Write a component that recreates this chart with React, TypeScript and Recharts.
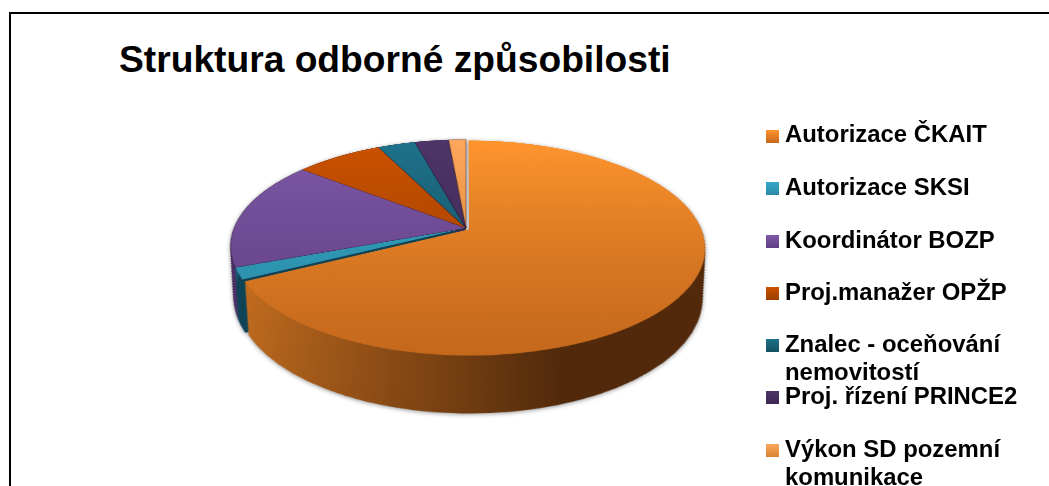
import React from "react";
import { PieChart, Pie, Cell } from "recharts";

const categories = [
  "Autorizace ČKAIT",
  "Autorizace SKSI",
  "Koordinátor BOZP",
  "Proj.manažer OPŽP",
  "Znalec - oceňování nemovitostí",
  "Proj. řízení PRINCE2",
  "Výkon SD pozemní komunikace",
];
const shares = [67.4, 1.8, 16.5, 7.1, 3.05, 2.75, 1.4];

// top face: light at the back, dark at the front
const topLight = ["#ff952e", "#33a8c8", "#8059a9", "#cc5200", "#1d728b", "#4e3569", "#fca75c"];
const topDark = ["#c4681c", "#2a8aa5", "#5f3f82", "#9a3f00", "#155062", "#3a2850", "#d9822f"];
// side wall: left to right
const wallLeft = ["#c87020", "#2f93b0", "#4a3066", "#8a3a00", "#124a5c", "#2e2040", "#b87030"];
const wallRight = ["#522a0b", "#0f4456", "#3a2550", "#6a2c00", "#0f3e4d", "#261a35", "#8a5525"];

const rows = categories.map((name, i) => ({ name, value: shares[i] }));

const SIZE = 700;
const C = 350;
const R = 232;
const LAYERS = 51;
const STEP = 2;
const SHRINK = 0.4;
const layerIds = Array.from({ length: LAYERS }, (_, i) => LAYERS - i);

function slices(group: "main" | "rest", kind: "top" | "wall") {
  return rows.map((_, i) => {
    const on = group === "main" ? i === 0 : i !== 0;
    // thin dark seam between the small slices
    const seam = kind === "top" && on && group === "rest";
    return (
      <Cell
        key={i}
        fill={on ? `url(#${kind}${i})` : "none"}
        stroke={seam ? "rgba(40,15,40,0.45)" : "none"}
        strokeWidth={seam ? 1 : 0}
      />
    );
  });
}

function layers(group: "main" | "rest", dx: number, dy: number) {
  const pieProps = {
    data: rows,
    dataKey: "value",
    startAngle: 90,
    endAngle: -270,
    innerRadius: 0,
    stroke: "none",
    isAnimationActive: false,
    legendType: "none" as const,
  };
  return [
    ...layerIds.map((k) => (
      <Pie
        key={`${group}-${k}`}
        {...pieProps}
        cx={C + dx}
        cy={C + dy + k * STEP}
        outerRadius={R - k * SHRINK}
      >
        {slices(group, "wall")}
      </Pie>
    )),
    <Pie key={`${group}-top`} {...pieProps} cx={C + dx} cy={C + dy} outerRadius={R}>
      {slices(group, "top")}
    </Pie>,
  ];
}

function Pie3D() {
  return (
    <PieChart width={SIZE} height={SIZE} margin={{ top: 0, right: 0, bottom: 0, left: 0 }}>
      <defs>
        {rows.map((_, i) => (
          <linearGradient
            key={`t${i}`}
            id={`top${i}`}
            gradientUnits="userSpaceOnUse"
            x1="0"
            y1={C - R}
            x2="0"
            y2={C + R}
          >
            <stop offset="0%" stopColor={topLight[i]} />
            <stop offset="100%" stopColor={topDark[i]} />
          </linearGradient>
        ))}
        {rows.map((_, i) => (
          <linearGradient
            key={`w${i}`}
            id={`wall${i}`}
            gradientUnits="userSpaceOnUse"
            x1={C - R}
            y1="0"
            x2={C + R}
            y2="0"
          >
            <stop offset={i === 1 ? "2%" : "3%"} stopColor={wallLeft[i]} />
            <stop offset={i === 1 ? "5%" : "66%"} stopColor={wallRight[i]} />
          </linearGradient>
        ))}
      </defs>
      {layers("rest", 0, 0)}
      {layers("main", 3, 3)}
    </PieChart>
  );
}

const legendTops = [120, 173, 226, 278, 330, 382, 435];
const legendMarkerTops = [130, 182, 235, 287, 339, 391, 444];

export default function App() {
  return (
    <div
      style={{
        position: "absolute",
        left: 0,
        top: 0,
        width: 1049,
        height: 486,
        overflow: "hidden",
        background: "#fff",
        fontFamily: "'Liberation Sans', Arial, sans-serif",
      }}
    >
      <div
        style={{
          position: "absolute",
          left: 9,
          top: 12,
          right: 0,
          bottom: 0,
          borderLeft: "2px solid #000",
          borderTop: "2px solid #000",
        }}
      />
      <div
        style={{
          position: "absolute",
          left: 119,
          top: 39,
          fontSize: 37.2,
          fontWeight: 700,
          lineHeight: "40px",
          whiteSpace: "nowrap",
          color: "#000",
        }}
      >
        Struktura odborné způsobilosti
      </div>

      <div style={{ position: "absolute", left: 0, top: 0, filter: "drop-shadow(0 1px 2px rgba(0,0,0,0.4))" }}>
        <div
          style={{
            position: "absolute",
            left: 465.5 - C,
            top: 228 - C,
            width: SIZE,
            height: SIZE,
            transformOrigin: `${C}px ${C}px`,
            transform: "perspective(1200px) rotateX(63.4deg)",
          }}
        >
          <Pie3D />
        </div>
      </div>

      {categories.map((name, i) => (
        <React.Fragment key={name}>
          <div
            style={{
              position: "absolute",
              left: 766,
              top: legendMarkerTops[i],
              width: 13,
              height: 13,
              background: `linear-gradient(${topLight[i]}, ${topDark[i]})`,
            }}
          />
          <div
            style={{
              position: "absolute",
              left: 785,
              top: legendTops[i],
              width: 250,
              fontSize: 23.9,
              fontWeight: 700,
              lineHeight: "28px",
              color: "#000",
            }}
          >
            {name}
          </div>
        </React.Fragment>
      ))}
    </div>
  );
}
